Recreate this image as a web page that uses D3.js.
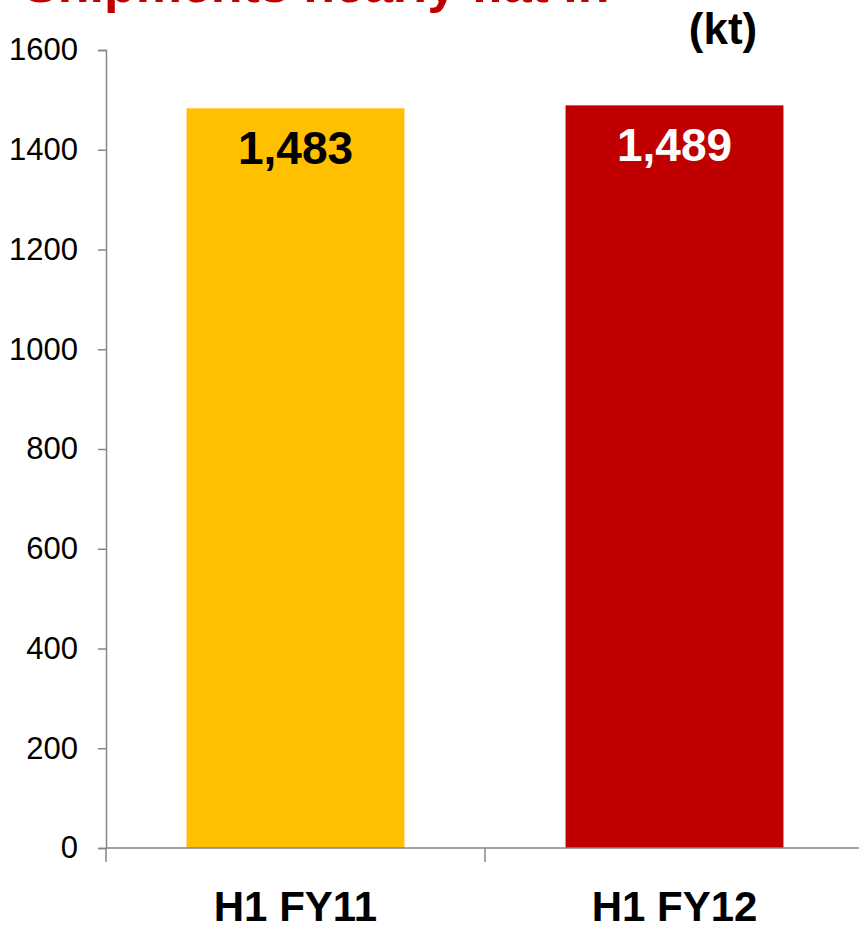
<!DOCTYPE html>
<html>
<head>
<meta charset="utf-8">
<script src="https://cdn.jsdelivr.net/npm/d3@7/dist/d3.min.js"></script>
<style>
  html, body { margin: 0; padding: 0; background: #ffffff; }
  svg { display: block; font-family: "Liberation Sans", Arial, sans-serif; }
</style>
</head>
<body>
<svg id="chart" width="859" height="929"></svg>
<script>
// Half-year shipments, kilotonnes
const categories = ["H1 FY11", "H1 FY12"];
const shipments = [1483, 1489];
const valueLabels = ["1,483", "1,489"];
const barColors = ["#FFC000", "#C00000"];
const labelColors = ["#000000", "#FFFFFF"];
const yTicks = [0, 200, 400, 600, 800, 1000, 1200, 1400, 1600];
const titleText = "Shipments nearly flat in";
const unitText = "(kt)";

const svg = d3.select("#chart");
const axisColor = "#868686";

const plot = { left: 106, right: 864, top: 50, bottom: 848 };

const y = d3.scaleLinear().domain([0, 1600]).range([plot.bottom, plot.top]);
const x = d3.scaleBand()
  .domain(categories)
  .range([plot.left, plot.right])
  .paddingInner(0.425)
  .paddingOuter(0.2125);

// Title (top of slide, running off the upper edge)
svg.append("text")
  .attr("x", 23).attr("y", 1.5)
  .attr("font-size", 52).attr("font-weight", "bold")
  .attr("fill", "#C00000")
  .text(titleText);

// Unit label
svg.append("text")
  .attr("x", 723).attr("y", 44)
  .attr("text-anchor", "middle")
  .attr("font-size", 44).attr("font-weight", "bold")
  .attr("fill", "#000")
  .text(unitText);

// Bars
svg.append("g").selectAll("rect")
  .data(categories)
  .join("rect")
  .attr("x", d => x(d))
  .attr("width", x.bandwidth())
  .attr("y", (d, i) => y(shipments[i]))
  .attr("height", (d, i) => y(0) - y(shipments[i]))
  .attr("fill", (d, i) => barColors[i]);

// Value labels inside bars
svg.append("g").selectAll("text")
  .data(categories)
  .join("text")
  .attr("x", d => x(d) + x.bandwidth() / 2)
  .attr("y", (d, i) => y(shipments[i]) + 56)
  .attr("text-anchor", "middle")
  .attr("font-size", 46).attr("font-weight", "bold")
  .attr("fill", (d, i) => labelColors[i])
  .text((d, i) => valueLabels[i]);

// Y axis
const yAxis = d3.axisLeft(y).tickValues(yTicks).tickSize(8).tickPadding(20).tickFormat(d3.format("d"));
const gy = svg.append("g").attr("transform", `translate(${plot.left},0)`).call(yAxis);
gy.select(".domain").attr("stroke", axisColor).attr("stroke-width", 1.5);
gy.selectAll(".tick line").attr("stroke", axisColor).attr("stroke-width", 1.5);
gy.selectAll(".tick text")
  .attr("font-family", "Liberation Sans, Arial, sans-serif")
  .attr("font-size", 31).attr("fill", "#000");

// X axis: baseline with ticks at category boundaries
const step = x.step();
const boundaries = d3.range(categories.length + 1).map(i => plot.left + i * step);
const gx = svg.append("g");
gx.append("line")
  .attr("x1", plot.left).attr("x2", plot.right)
  .attr("y1", y(0)).attr("y2", y(0))
  .attr("stroke", axisColor).attr("stroke-width", 1.5);
gx.selectAll("line.tk")
  .data(boundaries)
  .join("line")
  .attr("class", "tk")
  .attr("x1", d => d).attr("x2", d => d)
  .attr("y1", y(0)).attr("y2", y(0) + 14)
  .attr("stroke", axisColor).attr("stroke-width", 1.5);
gx.selectAll("text")
  .data(categories)
  .join("text")
  .attr("x", d => x(d) + x.bandwidth() / 2)
  .attr("y", 921)
  .attr("text-anchor", "middle")
  .attr("font-size", 42).attr("font-weight", "bold")
  .attr("fill", "#000")
  .text(d => d);
</script>
</body>
</html>
